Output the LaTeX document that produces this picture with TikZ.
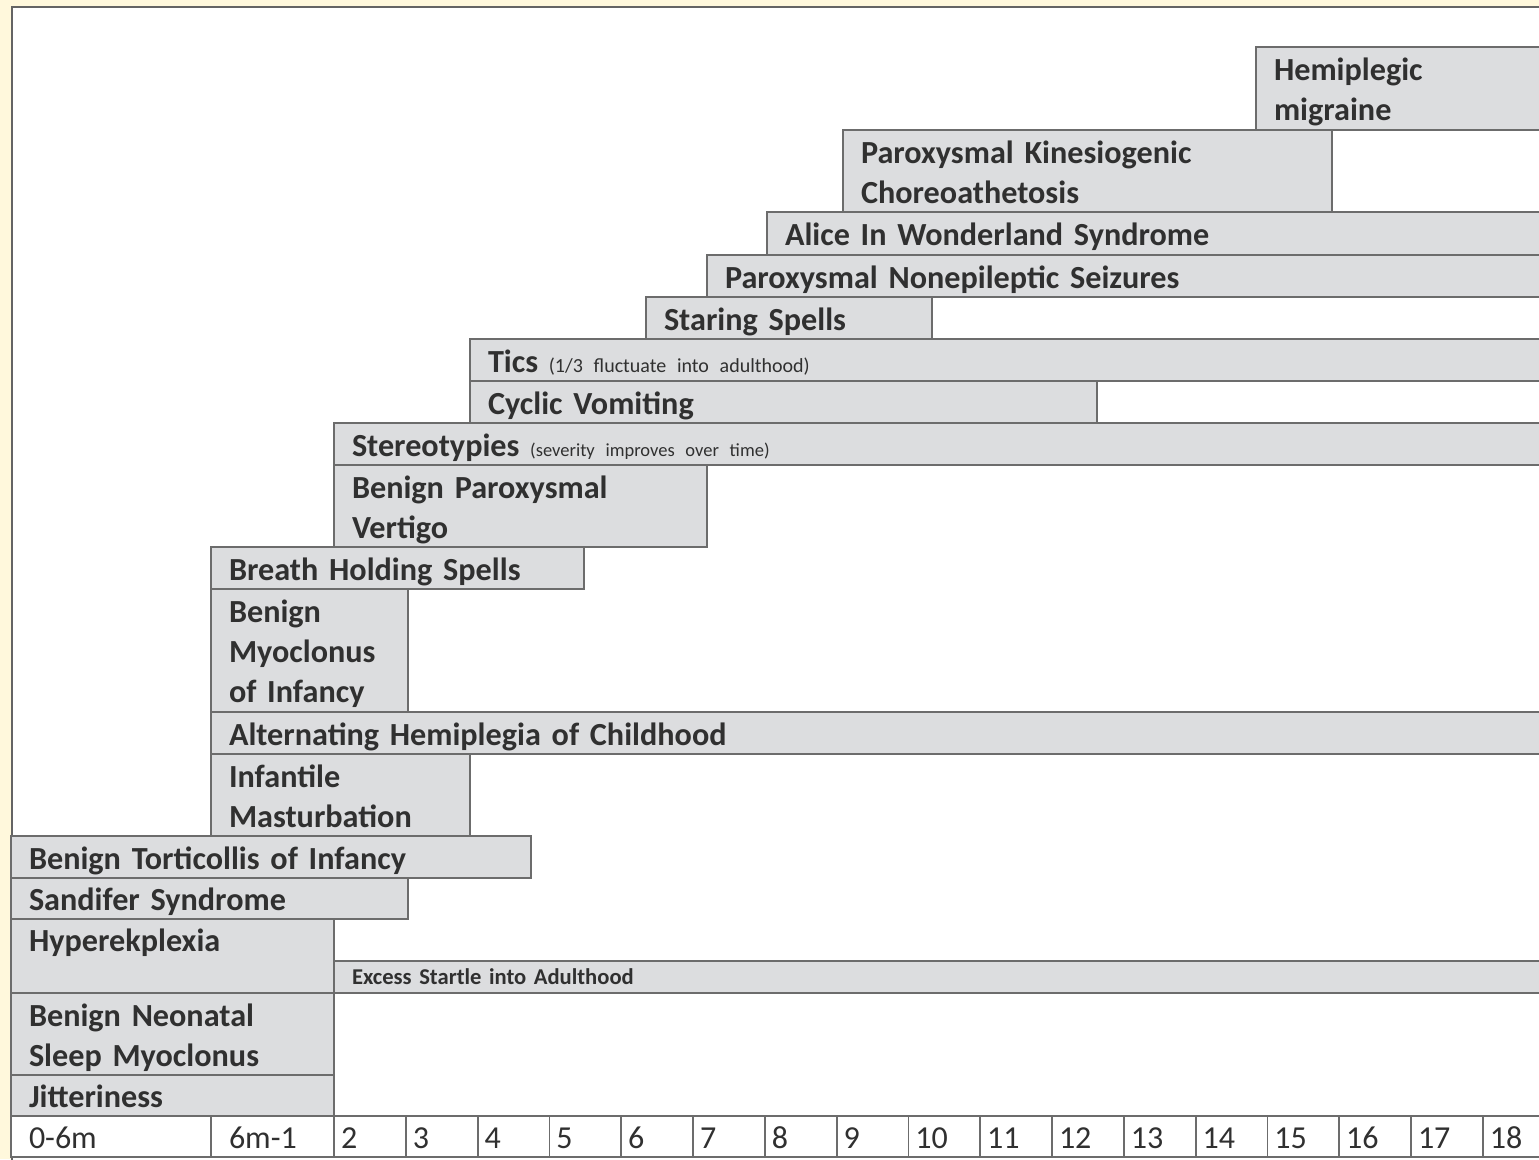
\documentclass[tikz,border=0pt]{standalone}
\usepackage{fontspec}
\setmainfont{Carlito}
\definecolor{cream}{RGB}{255,248,220}
\definecolor{barfill}{RGB}{220,221,223}
\definecolor{linegray}{RGB}{108,108,108}
\definecolor{framegray}{RGB}{100,100,100}
\definecolor{txt}{RGB}{48,48,48}
\tikzset{
  bar/.style={draw=linegray, fill=barfill, line width=1.8pt, rectangle,
    anchor=north west, outer sep=0pt, inner xsep=18pt, inner ysep=0pt,
    align=left, text=txt, font=\bfseries\fontsize{32.2}{40}\selectfont,
    text height=28pt},
  cell/.style={draw=linegray, fill=white, line width=1.8pt, rectangle,
    anchor=north west, outer sep=0pt, inner ysep=0pt, align=left, text=txt,
    font=\fontsize{32}{40}\selectfont, text height=28pt, text depth=4pt}
}
\newcommand\smalltxt[2]{{\mdseries\fontsize{#1}{24}\selectfont #2}}
\newcommand\dbar[7][]{%
  \pgfmathsetmacro\mybw{#4-#2}%
  \pgfmathsetmacro\mybh{#5-#3}%
  \pgfmathsetmacro\mytw{#4-#2-36}%
  \node[bar, minimum width=\mybw pt, minimum height=\mybh pt,
        text width=\mytw pt, text depth=#6pt, #1] (#2n#3) at (#2,#3) {#7};}
\newcommand\acell[5]{% name, x1, x2, xsep, text
  \pgfmathsetmacro\mybw{#3-#2}%
  \pgfmathsetmacro\mytw{#3-#2-2*#4}%
  \node[cell, inner xsep=#4pt, minimum width=\mybw pt, minimum height=41pt,
        text width=\mytw pt] (#1) at (#2,1116) {#5};}
\begin{document}
\begin{tikzpicture}[x=1pt, y=-1pt]
  \useasboundingbox (0,0) rectangle (1539,1159);
  \clip (0,0) rectangle (1539,1159);
  \fill[cream] (0,0) rectangle (1539,1159);
  \draw[framegray, line width=2pt, fill=white] (12,7) rectangle (1640,1240);

  % bars: x1 y1 x2 y2 depth text
  \dbar{1256}{47}{1640}{130}{44}{Hemiplegic\\migraine}
  \dbar{843}{130}{1332}{212}{44}{Paroxysmal Kinesiogenic\\Choreoathetosis}
  \dbar{767}{212}{1640}{255}{4}{Alice In Wonderland Syndrome}
  \dbar{707}{255}{1640}{297}{4}{Paroxysmal Nonepileptic Seizures}
  \dbar{646}{297}{932}{339}{4}{Staring Spells}
  \dbar{470}{339}{1640}{381}{4}{Tics \smalltxt{20}{(1/3 fluctuate into adulthood)}}
  \dbar{470}{381}{1097}{423}{4}{Cyclic Vomiting}
  \dbar{334}{423}{1640}{465}{4}{Stereotypies \smalltxt{18.5}{(severity improves over time)}}
  \dbar{334}{465}{707}{547}{44}{Benign Paroxysmal\\Vertigo}
  \dbar{211}{547}{584}{589}{4}{Breath Holding Spells}
  \dbar{211}{589}{408}{712}{84}{Benign\\Myoclonus\\of Infancy}
  \dbar{211}{712}{1640}{754}{4}{Alternating Hemiplegia of Childhood}
  \dbar{211}{754}{470}{836}{44}{Infantile\\Masturbation}
  \dbar{11}{836}{531}{878}{4}{Benign Torticollis of Infancy}
  \dbar{11}{878}{408}{919}{4}{Sandifer Syndrome}
  \dbar{11}{919}{334}{993}{38}{Hyperekplexia}
  \dbar[font=\bfseries\fontsize{22.6}{26}\selectfont, text height=18pt]{334}{961}{1640}{993}{4}{Excess Startle into Adulthood}
  \dbar{11}{993}{334}{1075}{44}{Benign Neonatal\\Sleep Myoclonus}
  \dbar{11}{1075}{334}{1116}{4}{Jitteriness}

  % age axis
  \acell{ax0}{11}{211}{18}{0-6m}
  \acell{ax1}{211}{334}{18}{6m-1}
  \foreach \k in {2,...,18}{
    \pgfmathsetmacro\xa{334+(\k-2)*71.8}
    \pgfmathsetmacro\xb{334+(\k-1)*71.8}
    \acell{ax\k}{\xa}{\xb}{7}{\k}
  }
\end{tikzpicture}
\end{document}
